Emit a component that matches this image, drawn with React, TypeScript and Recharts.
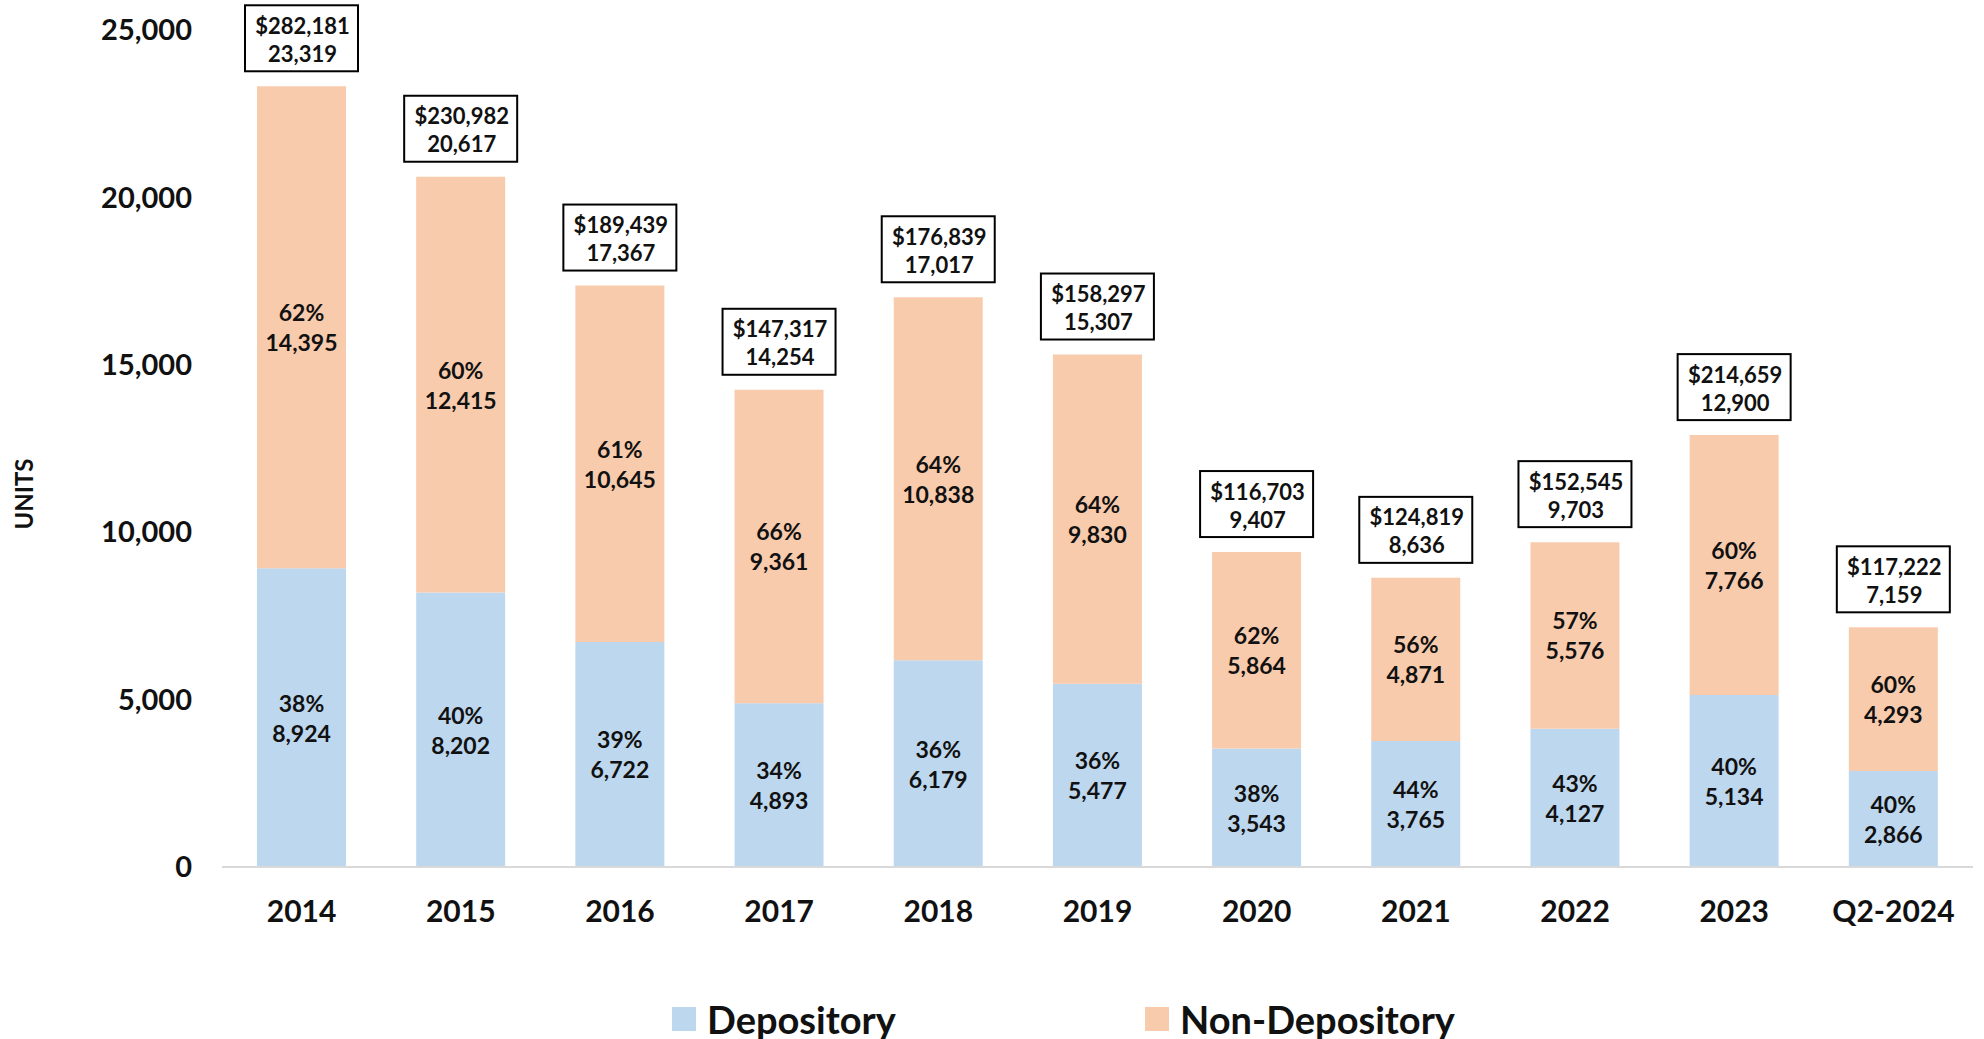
import React from "react";
import { Bar, BarChart, LabelList, Legend, XAxis, YAxis, Label } from "recharts";

const years = ["2014", "2015", "2016", "2017", "2018", "2019", "2020", "2021", "2022", "2023", "Q2-2024"];
const depository = [8924, 8202, 6722, 4893, 6179, 5477, 3543, 3765, 4127, 5134, 2866];
const nonDepository = [14395, 12415, 10645, 9361, 10838, 9830, 5864, 4871, 5576, 7766, 4293];
const depositoryPct = [38, 40, 39, 34, 36, 36, 38, 44, 43, 40, 40];
const nonDepositoryPct = [62, 60, 61, 66, 64, 64, 62, 56, 57, 60, 60];
const totalUnits = [23319, 20617, 17367, 14254, 17017, 15307, 9407, 8636, 9703, 12900, 7159];
const totalDollars = [282181, 230982, 189439, 147317, 176839, 158297, 116703, 124819, 152545, 214659, 117222];
const yTicks = [0, 5000, 10000, 15000, 20000, 25000];

const FONT = "Lato, 'Open Sans', sans-serif";
const BLUE = "#BDD7EE";
const ORANGE = "#F8CBAD";

const data = years.map((year, i) => ({
  year,
  depository: depository[i],
  nonDepository: nonDepository[i],
}));

const fmt = (v: number) => v.toLocaleString("en-US");

function SegmentLabel(pcts: number[]) {
  return (props: any) => {
    const { x, y, width, height, index, value } = props;
    const cx = Number(x) + Number(width) / 2;
    const cy = Number(y) + Number(height) / 2;
    return (
      <g>
        <text x={cx} y={cy - 15} textAnchor="middle" dominantBaseline="central" fontSize={23} fontWeight={700} fill="#111" fontFamily={FONT}>
          {pcts[index]}%
        </text>
        <text x={cx} y={cy + 15} textAnchor="middle" dominantBaseline="central" fontSize={23} fontWeight={700} fill="#111" fontFamily={FONT}>
          {fmt(value)}
        </text>
      </g>
    );
  };
}

function TotalBox(props: any) {
  const { x, y, width, index } = props;
  const cx = Number(x) + Number(width) / 2;
  const bottom = Number(y) - 15;
  const w = 113;
  const h = 66;
  return (
    <g>
      <rect x={cx - w / 2} y={bottom - h} width={w} height={h} fill="#fff" stroke="#000" strokeWidth={2} />
      <text x={cx + 1} y={bottom - h + 20} textAnchor="middle" dominantBaseline="central" fontSize={22} fontWeight={700} fill="#111" fontFamily={FONT}>
        ${fmt(totalDollars[index])}
      </text>
      <text x={cx + 1} y={bottom - h + 48} textAnchor="middle" dominantBaseline="central" fontSize={22} fontWeight={700} fill="#111" fontFamily={FONT}>
        {fmt(totalUnits[index])}
      </text>
    </g>
  );
}

function LegendContent() {
  const item = (color: string, text: string, left: number) => (
    <div style={{ position: "absolute", left, top: 0, height: 50, display: "flex", alignItems: "center" }}>
      <div style={{ width: 24, height: 24, background: color, marginRight: 11 }} />
      <span style={{ fontSize: 38, lineHeight: "50px", fontWeight: 700, color: "#111", fontFamily: FONT }}>{text}</span>
    </div>
  );
  return (
    <div style={{ position: "relative", width: 1984, height: 50 }}>
      {item(BLUE, "Depository", 672)}
      {item(ORANGE, "Non-Depository", 1145)}
    </div>
  );
}

export default function App(): React.JSX.Element {
  return (
    <div style={{ position: "absolute", left: 0, top: 0, background: "#fff" }}>
      <BarChart width={1984} height={1039} data={data} margin={{ top: 30, right: 11, left: 0, bottom: 42 }} barSize={89}>
        <XAxis
          dataKey="year"
          axisLine={{ stroke: "#D9D9D9", strokeWidth: 2 }}
          tickLine={false}
          tickSize={0}
          tickMargin={34}
          height={80}
          tick={{ fontSize: 30, fontWeight: 700, fill: "#111", fontFamily: FONT }}
        />
        <YAxis
          width={222}
          domain={[0, 25000]}
          ticks={yTicks}
          interval={0}
          axisLine={false}
          tickLine={false}
          tickSize={0}
          tickMargin={30}
          tickFormatter={(v: number) => fmt(v)}
          tick={{ fontSize: 29, fontWeight: 700, fill: "#111", fontFamily: FONT }}
        >
          <Label
            content={() => (
              <text x={23} y={494} transform="rotate(-90 23 494)" textAnchor="middle" dominantBaseline="central" fontSize={24} fontWeight={700} fill="#111" fontFamily={FONT}>
                UNITS
              </text>
            )}
          />
        </YAxis>
        <Legend
          verticalAlign="bottom"
          content={() => <LegendContent />}
          wrapperStyle={{ position: "absolute", left: 0, top: 994, width: 1984, height: 50 }}
        />
        <Bar dataKey="depository" name="Depository" stackId="a" fill={BLUE} isAnimationActive={false}>
          <LabelList dataKey="depository" content={SegmentLabel(depositoryPct)} />
        </Bar>
        <Bar dataKey="nonDepository" name="Non-Depository" stackId="a" fill={ORANGE} isAnimationActive={false}>
          <LabelList dataKey="nonDepository" content={SegmentLabel(nonDepositoryPct)} />
          <LabelList dataKey="nonDepository" content={TotalBox} />
        </Bar>
      </BarChart>
    </div>
  );
}
